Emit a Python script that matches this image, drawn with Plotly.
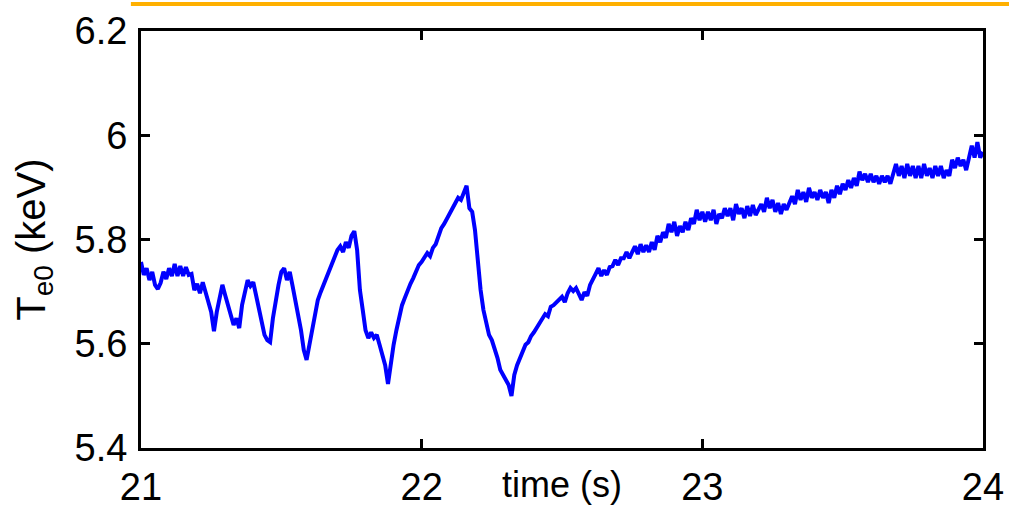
import numpy as np
import plotly.graph_objects as go

# time grid (s), 0.01 s sampling from 21 to 24
time_s = np.linspace(21.0, 24.0, 301)

# central electron temperature Te0 (keV)
te0_keV = [
    # 21.00 - 21.09
    5.757, 5.732, 5.745, 5.722, 5.738, 5.713, 5.705, 5.717, 5.738, 5.724,
    # 21.10 - 21.19
    5.745, 5.730, 5.753, 5.730, 5.749, 5.730, 5.747, 5.732, 5.734, 5.703,
    # 21.20 - 21.29
    5.715, 5.697, 5.718, 5.695, 5.680, 5.661, 5.624, 5.661, 5.684, 5.713,
    # 21.30 - 21.39
    5.693, 5.674, 5.649, 5.636, 5.649, 5.630, 5.674, 5.703, 5.722, 5.711,
    # 21.40 - 21.49
    5.718, 5.693, 5.665, 5.642, 5.617, 5.607, 5.603, 5.649, 5.684, 5.713,
    # 21.50 - 21.59
    5.738, 5.745, 5.722, 5.738, 5.711, 5.684, 5.661, 5.626, 5.588, 5.569,
    # 21.60 - 21.69
    5.598, 5.626, 5.653, 5.684, 5.699, 5.713, 5.722, 5.738, 5.753, 5.764,
    # 21.70 - 21.79
    5.780, 5.787, 5.776, 5.795, 5.784, 5.807, 5.816, 5.780, 5.703, 5.665,
    # 21.80 - 21.89
    5.626, 5.611, 5.622, 5.611, 5.617, 5.598, 5.578, 5.559, 5.523, 5.565,
    # 21.90 - 21.99
    5.598, 5.626, 5.655, 5.674, 5.688, 5.703, 5.715, 5.726, 5.738, 5.751,
    # 22.00 - 22.09
    5.757, 5.764, 5.774, 5.768, 5.784, 5.791, 5.807, 5.822, 5.830, 5.841,
    # 22.10 - 22.19
    5.853, 5.860, 5.870, 5.880, 5.876, 5.891, 5.903, 5.860, 5.853, 5.818,
    # 22.20 - 22.29
    5.757, 5.703, 5.665, 5.642, 5.617, 5.607, 5.592, 5.573, 5.550, 5.540,
    # 22.30 - 22.39
    5.530, 5.521, 5.500, 5.540, 5.559, 5.573, 5.584, 5.598, 5.603, 5.615,
    # 22.40 - 22.49
    5.622, 5.630, 5.638, 5.649, 5.657, 5.653, 5.671, 5.674, 5.680, 5.684,
    # 22.50 - 22.59
    5.690, 5.680, 5.697, 5.707, 5.701, 5.707, 5.695, 5.684, 5.699, 5.692,
    # 22.60 - 22.69
    5.713, 5.722, 5.734, 5.745, 5.730, 5.741, 5.732, 5.747, 5.749, 5.761,
    # 22.70 - 22.79
    5.751, 5.764, 5.764, 5.776, 5.764, 5.776, 5.787, 5.772, 5.791, 5.776,
    # 22.80 - 22.89
    5.789, 5.776, 5.795, 5.780, 5.807, 5.795, 5.814, 5.803, 5.830, 5.814,
    # 22.90 - 22.99
    5.834, 5.807, 5.826, 5.814, 5.834, 5.818, 5.841, 5.830, 5.857, 5.837,
    # 23.00 - 23.09
    5.853, 5.834, 5.853, 5.837, 5.857, 5.830, 5.849, 5.841, 5.860, 5.845,
    # 23.10 - 23.19
    5.860, 5.837, 5.868, 5.849, 5.860, 5.841, 5.864, 5.845, 5.866, 5.847,
    # 23.20 - 23.29
    5.857, 5.868, 5.853, 5.880, 5.860, 5.876, 5.853, 5.870, 5.849, 5.868,
    # 23.30 - 23.39
    5.857, 5.872, 5.883, 5.868, 5.895, 5.876, 5.891, 5.872, 5.899, 5.880,
    # 23.40 - 23.49
    5.891, 5.876, 5.895, 5.880, 5.891, 5.870, 5.895, 5.880, 5.903, 5.887,
    # 23.50 - 23.59
    5.907, 5.895, 5.914, 5.899, 5.918, 5.903, 5.930, 5.914, 5.926, 5.910,
    # 23.60 - 23.69
    5.926, 5.910, 5.922, 5.907, 5.922, 5.910, 5.922, 5.907, 5.930, 5.945,
    # 23.70 - 23.79
    5.922, 5.941, 5.918, 5.945, 5.922, 5.941, 5.918, 5.941, 5.918, 5.945,
    # 23.80 - 23.89
    5.922, 5.937, 5.918, 5.941, 5.922, 5.941, 5.918, 5.933, 5.922, 5.953,
    # 23.90 - 23.99
    5.937, 5.957, 5.941, 5.953, 5.933, 5.953, 5.980, 5.957, 5.987, 5.957,
    # 24.00
    5.968,
]

x_ticks = [21, 22, 23, 24]
x_tick_labels = ["21", "22", "23", "24"]
y_ticks = [5.4, 5.6, 5.8, 6.0, 6.2]
y_tick_labels = ["5.4", "5.6", "5.8", "6", "6.2"]

FONT = "Liberation Sans, Arial, sans-serif"

fig = go.Figure()
fig.add_trace(go.Scatter(
    x=time_s, y=te0_keV, mode="lines",
    line=dict(color="#0000FF", width=4),
    showlegend=False, hoverinfo="skip",
))

axis_common = dict(
    showline=True, linecolor="black", linewidth=3,
    mirror="ticks", ticks="inside", ticklen=9, tickwidth=3, tickcolor="black",
    showgrid=False, zeroline=False, automargin=False,
    tickfont=dict(family=FONT, size=38, color="black"),
)

fig.update_layout(
    width=1009, height=507, autosize=False,
    margin=dict(l=141, r=26, t=31, b=59, autoexpand=False),
    paper_bgcolor="white", plot_bgcolor="white",
    xaxis=dict(range=[21, 24], tickvals=x_ticks, ticktext=x_tick_labels,
               ticklabelstandoff=3, **axis_common),
    yaxis=dict(range=[5.4, 6.2], tickvals=y_ticks, ticktext=y_tick_labels,
               ticklabelstandoff=3, **axis_common),
    annotations=[
        dict(text="time (s)", xref="paper", yref="paper", x=0.5, y=-0.087,
             xanchor="center", yanchor="middle", showarrow=False,
             font=dict(family=FONT, size=36, color="black")),
        dict(text="T<sub>e0</sub> (keV)", xref="paper", yref="paper",
             x=-0.128, y=0.5, xanchor="center", yanchor="middle",
             textangle=-90, showarrow=False,
             font=dict(family=FONT, size=40, color="black")),
    ],
    shapes=[
        dict(type="line", xref="paper", yref="paper",
             x0=-0.012, x1=1.035, y0=1.065, y1=1.065,
             line=dict(color="#FFB000", width=4)),
    ],
)

fig.write_html(
    "out.html",
    config={"displayModeBar": False},
    post_script="document.body.style.margin='0';document.body.style.padding='0';",
)
